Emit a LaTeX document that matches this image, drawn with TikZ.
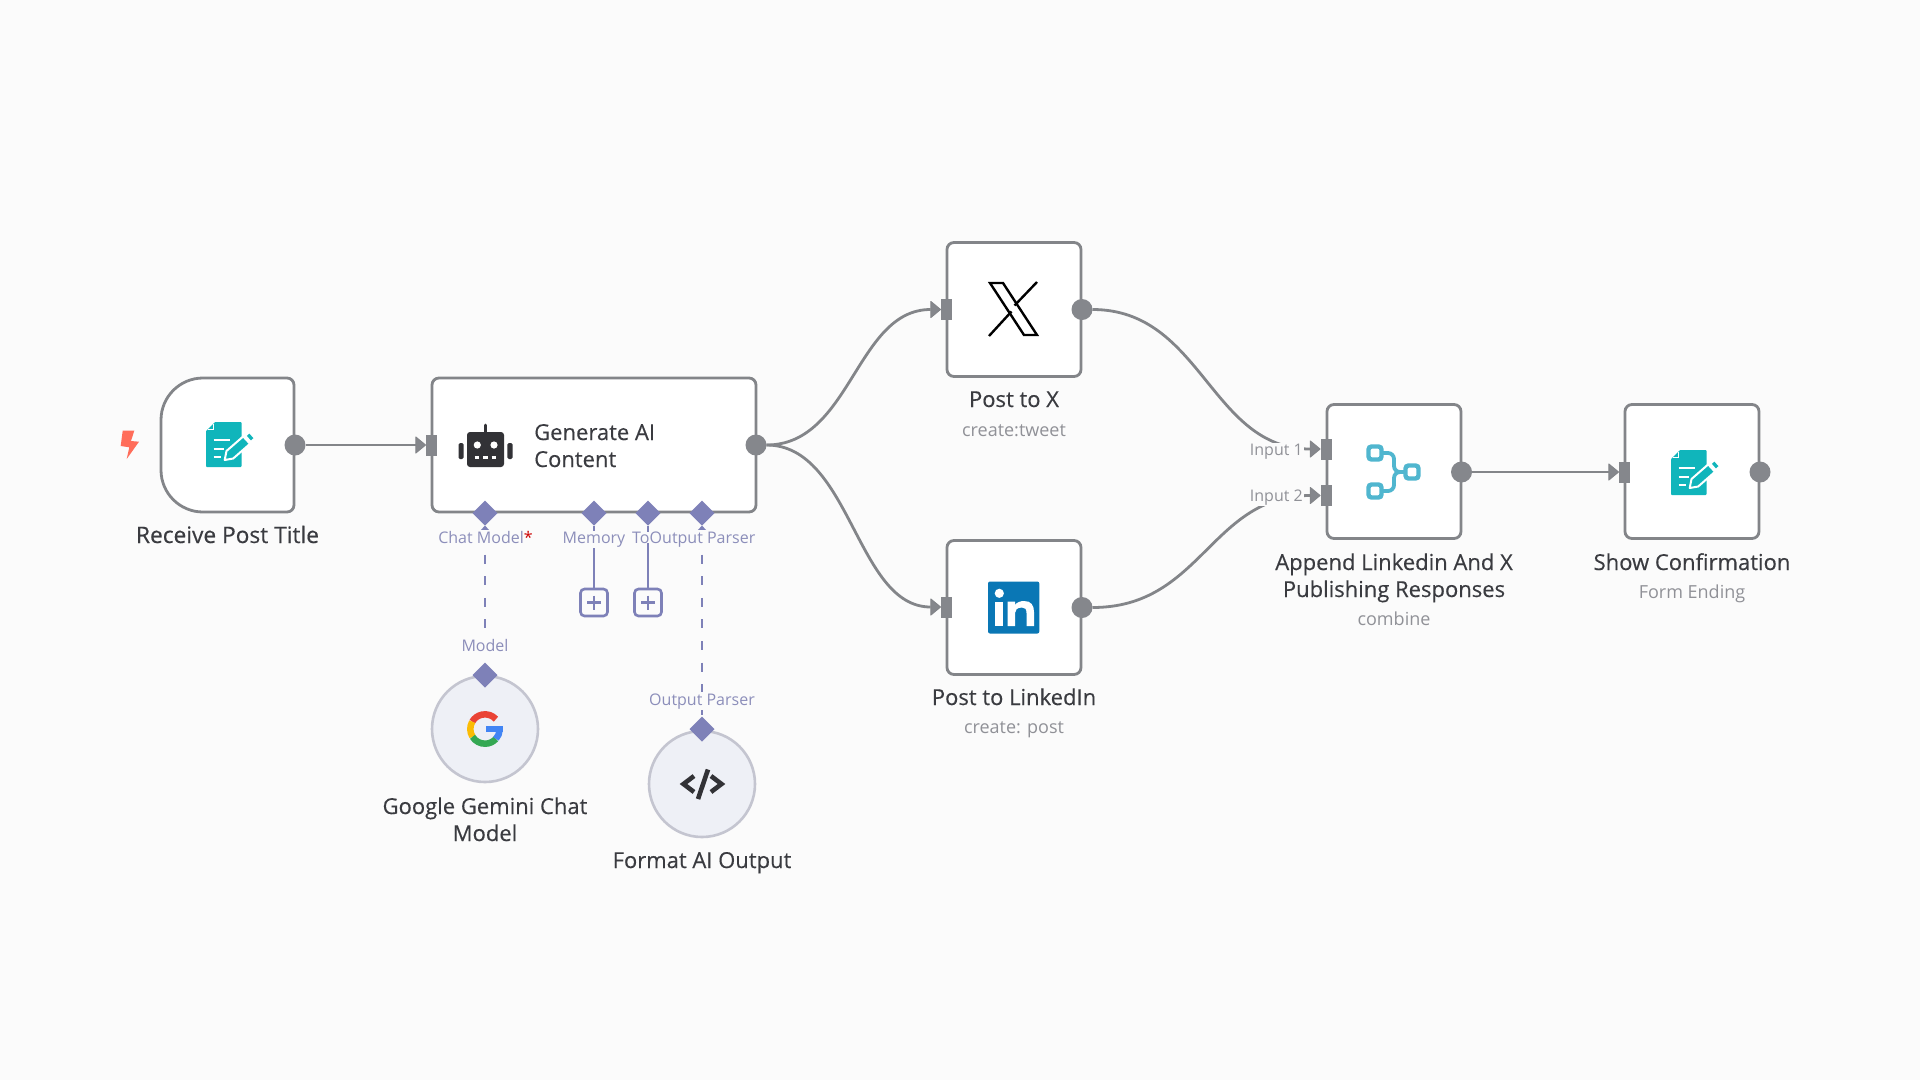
\documentclass[tikz,border=0pt]{standalone}
\usepackage{fontspec}
\setmainfont{Open Sans}
\newfontface\ttlface{Open Sans}[FakeBold=0.35]
\usetikzlibrary{arrows.meta,backgrounds,shapes.geometric}
\definecolor{pagebg}{HTML}{FBFBFB}
\definecolor{edge}{HTML}{838589}
\definecolor{port}{HTML}{85878C}
\definecolor{txt}{HTML}{3A3B40}
\definecolor{subt}{HTML}{909197}
\definecolor{lav}{HTML}{7E81B8}
\definecolor{lavt}{HTML}{8C8EBA}
\definecolor{teal}{HTML}{10B5BB}
\definecolor{mergec}{HTML}{50B6CF}
\definecolor{dark}{HTML}{323236}
\definecolor{liblue}{HTML}{0A77B5}
\definecolor{bolt}{HTML}{FF6D5A}
\definecolor{subfill}{HTML}{EEF0F6}
\definecolor{subedge}{HTML}{C4C5D0}
\definecolor{gred}{HTML}{EA4335}
\definecolor{gyel}{HTML}{FBBC05}
\definecolor{ggrn}{HTML}{34A853}
\definecolor{gblu}{HTML}{4285F4}
\tikzset{
 x=1pt,y=-1pt,
 box/.style={draw=edge,line width=2.8pt,fill=white,rounded corners=7pt,minimum width=134pt,minimum height=134pt,inner sep=0pt,outer sep=0pt},
 subnode/.style={draw=subedge,line width=2.6pt,fill=subfill,circle,minimum size=106pt,inner sep=0pt},
 outport/.style={circle,fill=port,minimum size=21pt,inner sep=0pt,outer sep=0pt},
 inport/.style={rectangle,fill=port,minimum width=11pt,minimum height=21pt,inner sep=0pt,outer sep=0pt},
 conn/.style={draw=edge,line width=2.8pt,-{Triangle[round,length=11pt,width=18pt,fill=port,line width=1pt]}},
 dia/.style={diamond,fill=lav,minimum size=25pt,inner sep=0pt,outer sep=0pt},
 aiconn/.style={draw=lav,line width=2.8pt},
 aidash/.style={aiconn,dash pattern=on 9pt off 12.6pt,{Triangle[length=8pt,width=14pt,fill=lav]}-},
 addbox/.style={draw=lav,line width=2.6pt,fill=pagebg,rounded corners=4pt,minimum size=27pt,inner sep=0pt},
 title/.style={font=\ttlface\fontsize{22}{27}\selectfont,text=txt,anchor=base,inner sep=0pt,align=center},
 sub/.style={font=\fontsize{18}{22}\selectfont,text=subt,anchor=base,inner sep=0pt},
 lab/.style={font=\fontsize{16}{20}\selectfont,text=lavt,anchor=base,inner sep=1pt,fill=pagebg},
 inlab/.style={font=\fontsize{16}{20}\selectfont,text=subt,anchor=base,inner sep=1pt,fill=pagebg},
 pics/formicon/.style={code={
  \fill[teal,rounded corners=0.8pt] (9,0)--(35.5,0)--(35.5,45)--(0,45)--(0,9)--cycle;
  \draw[white,line width=1.2pt] (2,7.5)--(7.5,7.5)--(7.5,2);
  \draw[white,line width=2pt] (7.7,18.3)--(24.3,18.3) (7.7,26.7)--(17.7,26.7) (7.7,35)--(15,35);
  \draw[white,line width=2pt,fill=teal,line join=round] (18.7,38)--(27.2,36.5)--(44,21.8)--(37.2,14.4)--(20.5,29)--cycle;
  \draw[teal,line width=6pt] (42.9,16.1)--(45.4,13.9);
 }}
}
\begin{document}
\begin{tikzpicture}
\useasboundingbox (0,0) rectangle (1920,1080);
% nodes
\path[draw=edge,line width=2.8pt,fill=white] (203,378) -- (287,378) arc[start angle=-90,end angle=0,radius=7] -- (294,505) arc[start angle=0,end angle=90,radius=7] -- (203,512) arc[start angle=90,end angle=180,radius=42] -- (161,420) arc[start angle=180,end angle=270,radius=42] -- cycle;
\node[minimum width=133pt,minimum height=134pt,inner sep=0pt] (recv) at (227.5,445) {};
\node[box,minimum width=324pt] (gen) at (594,445) {};
\node[box] (postx) at (1014,309.5) {};
\node[box] (postli) at (1014,607.5) {};
\node[box] (merge) at (1394,471.5) {};
\node[box] (confirm) at (1692,471.5) {};
\node[subnode] (gemini) at (485,729) {};
\node[subnode] (fmt) at (702,784) {};
% ports
\node[outport] (recvout) at (295,445) {};
\node[inport] (genin) at (431.5,445) {};
\node[outport] (genout) at (756,445) {};
\node[inport] (xin) at (946.5,309.5) {};
\node[outport] (xout) at (1082,309.5) {};
\node[inport] (liin) at (946.5,607) {};
\node[outport] (liout) at (1082,607.5) {};
\node[inport] (mina) at (1326,449) {};
\node[inport] (minb) at (1326,495.5) {};
\node[outport] (mout) at (1461.5,472) {};
\node[inport] (cin) at (1624.5,472) {};
\node[outport] (cout) at (1760,472) {};
\node[dia] (dchat) at (485,513) {};
\node[dia] (dmem) at (594,513) {};
\node[dia] (dtool) at (648,513) {};
\node[dia] (dpar) at (702,513) {};
\node[dia] (dmodel) at (485,675) {};
\node[dia] (dfmt) at (702,729) {};
\node[addbox] (addmem) at (594,602.5) {};
\node[addbox] (addtool) at (648,602.5) {};
\draw[lav,line width=2.6pt] (587,602.5)--(601,602.5) (594,595.5)--(594,609.5) (641,602.5)--(655,602.5) (648,595.5)--(648,609.5);
% connectors
\begin{scope}[on background layer]
\fill[pagebg] (0,0) rectangle (1920,1080);
\draw[conn] (recvout) -- (genin.west);
\draw[conn] (genout) .. controls +(95,0) and +(-85,0) .. (xin.west);
\draw[conn] (genout) .. controls +(95,0) and +(-85,0) .. (liin.west);
\draw[conn] (xout) .. controls +(120,0) and +(-110,0) .. (mina.west);
\draw[conn] (liout) .. controls +(120,0) and +(-110,0) .. (minb.west);
\draw[conn] (mout) -- (cin.west);
\draw[aidash] (dchat.south) -- (dmodel.north);
\draw[aidash] (dpar.south) -- (dfmt.north);
\draw[aiconn] (dmem) -- (addmem.north);
\draw[aiconn] (dtool) -- (addtool.north);
\end{scope}
% labels
\node[title,font=\ttlface\fontsize{22.7}{27}\selectfont] (trecv) at (227.5,543) {Receive Post Title};
\node[title,anchor=base west,align=left] (tgen) at (534,467) {Generate AI\\Content};
\node[title] (tx) at (1014,407) {Post to X};
\node[sub] (sx) at (1014,436) {create:tweet};
\node[title] (tli) at (1014,705) {Post to LinkedIn};
\node[sub] (sli) at (1014,733) {create: post};
\node[title] (tm) at (1394,597) {Append Linkedin And X\\Publishing Responses};
\node[sub] (sm) at (1394,625) {combine};
\node[title] (tc) at (1692,570) {Show Confirmation};
\node[sub] (sc) at (1692,598) {Form Ending};
\node[title] (tg) at (485,841) {Google Gemini Chat\\Model};
\node[title] (tf) at (702,868) {Format AI Output};
\node[lab] (lchat) at (485.5,543) {Chat Model\textcolor{red!80!black}{*}};
\node[lab] (lmem) at (594,543) {Memory};
\node[lab,anchor=base west,inner sep=0pt] (ltool) at (632,543) {To};
\node[lab] (lpar) at (702.5,543) {Output Parser};
\node[lab] (lmodel) at (485,651) {Model};
\node[lab] (lfmt) at (702,705) {Output Parser};
\node[inlab,anchor=base east] (lina) at (1304,455) {Input 1};
\node[inlab,anchor=base east] (linb) at (1304,501) {Input 2};
% icons
\fill[bolt] (122.7,430.7)--(134.3,430.7)--(131,441)--(139,441.7)--(126.7,459)--(129.3,447.3)--(120.7,446)--cycle;
\pic at (206,422) {formicon};
\pic at (1671,450) {formicon};
% robot
\fill[dark,rounded corners=3pt] (467,432)--(504,432)--(504,467)--(467,467)--cycle;
\draw[dark,line width=3pt,line cap=round] (485.3,425)--(485.3,432);
\fill[dark,rounded corners=1.5pt] (458.5,443)rectangle(463.7,459);
\fill[dark,rounded corners=1.5pt] (507.3,443)rectangle(512.7,459);
\fill[white] (477.3,445) circle[radius=3.6] (494,445) circle[radius=3.6];
\draw[white,line width=2.2pt] (474.5,457.5)--(479,457.5) (483,457.5)--(487.5,457.5) (491.5,457.5)--(496,457.5);
% code icon
\draw[dark,line width=4.6pt,line join=miter] (694,776)--(683.5,784)--(694,792) (711,776)--(721.5,784)--(711,792);
\draw[dark,line width=4.6pt] (708,769.5)--(698,799);
% X
\draw[black,line width=2.4pt,line join=miter] (990,283)--(1003,283)--(1037,335)--(1024,335)--cycle;
\draw[black,line width=2.4pt] (1037,282)--(1014.5,305.5) (989,336)--(1011.5,311.5);
% LinkedIn
\fill[liblue,rounded corners=2pt] (988,581.5) rectangle (1039.3,633.5);
\fill[white] (999.3,593.3) circle[radius=4.6];
\fill[white] (995.3,601.7) rectangle (1003.3,626);
\fill[white] (1007.5,601.7)--(1015,601.7)--(1015,605) .. controls (1017,602) and (1021,601) .. (1024,601) .. controls (1031,601) and (1034,605) .. (1034,612) -- (1034,626)--(1026.5,626)--(1026.5,613) .. controls (1026.5,609) and (1025,607.5) .. (1022,607.5) .. controls (1017,607.5) and (1015,610) .. (1015,613)--(1015,626)--(1007.5,626)--cycle;
% merge icon
\draw[mergec,line width=4.4pt,rounded corners=3pt] (1368.5,446.5) rectangle (1381.5,459.5);
\draw[mergec,line width=4.4pt,rounded corners=3pt] (1368.5,484.5) rectangle (1381.5,497.5);
\draw[mergec,line width=4.4pt,rounded corners=3pt] (1405.5,465.5) rectangle (1418.5,478.5);
\draw[mergec,line width=3.8pt,rounded corners=6pt] (1381.5,453)--(1394,453)--(1394,472)--(1405.5,472);
\draw[mergec,line width=3.8pt,rounded corners=6pt] (1381.5,491)--(1394,491)--(1394,472)--(1405.5,472);
% gemini G
\draw[gred,line width=6.5pt] (485,729) ++(-42:14.7) arc[start angle=-42,end angle=-150,radius=14.7];
\draw[gyel,line width=6.5pt] (485,729) ++(-150:14.7) arc[start angle=-150,end angle=-212,radius=14.7];
\draw[ggrn,line width=6.5pt] (485,729) ++(-212:14.7) arc[start angle=-212,end angle=-318,radius=14.7];
\draw[gblu,line width=6.5pt] (485,729) ++(-318:14.7) arc[start angle=-318,end angle=-358,radius=14.7];
\fill[gblu] (486,725.5) rectangle (503.2,731.5);
\end{tikzpicture}
\end{document}
